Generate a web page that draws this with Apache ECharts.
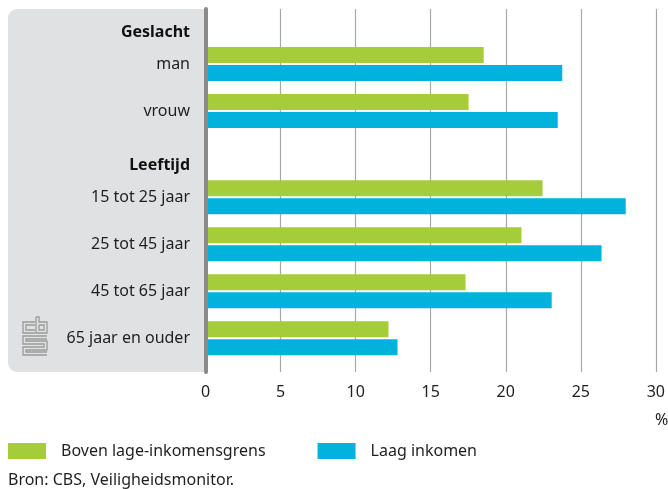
<!DOCTYPE html>
<html>
<head>
<meta charset="utf-8">
<script src="https://cdn.jsdelivr.net/npm/echarts@6/dist/echarts.min.js"></script>
<style>
  html, body { margin: 0; padding: 0; background: #fff; }
  #chart { width: 668px; height: 489px; }
</style>
</head>
<body>
<div id="chart"></div>
<script>
const groups = ['Geslacht', 'Leeftijd'];
const categories = ['man', 'vrouw', '15 tot 25 jaar', '25 tot 45 jaar', '45 tot 65 jaar', '65 jaar en ouder'];
const boven = [18.4, 17.4, 22.3, 20.9, 17.2, 12.1];
const laag = [23.6, 23.3, 27.8, 26.2, 22.9, 12.7];
const seriesNames = ['Boven lage-inkomensgrens', 'Laag inkomen'];
const source = 'Bron: CBS, Veiligheidsmonitor.';

// rows sit on a fine slot grid so the headings get their own spacing
const slotCount = 46;
const groupSlot = [2, 19];
const rowSlot = [6, 12, 23, 29, 35, 41];

const slotLabels = new Array(slotCount).fill('');
const bovenSlots = new Array(slotCount).fill(null);
const laagSlots = new Array(slotCount).fill(null);
groups.forEach((g, i) => { slotLabels[groupSlot[i]] = '{h|' + g + '}'; });
categories.forEach((c, i) => {
  slotLabels[rowSlot[i]] = c;
  bovenSlots[rowSlot[i]] = boven[i];
  laagSlots[rowSlot[i]] = laag[i];
});

const font = 'Noto Sans';
const textColor = '#1f1f1f';
const left = 205.6;
const logo = '#9a9a9a';

const chart = echarts.init(document.getElementById('chart'));
chart.setOption({
  animation: false,
  textStyle: {fontFamily: font},
  graphic: [
    {
      type: 'rect', z: -10,
      shape: {x: 8, y: 9, width: 197, height: 363, r: [9, 0, 0, 9]},
      style: {fill: '#dfe1e2'}
    },
    {
      type: 'group', z: -5,
      children: [
        {type: 'polyline', shape: {points: [[35, 322], [23, 322], [23, 333], [35, 333]]}, style: {stroke: logo, lineWidth: 1.3, fill: null}},
        {type: 'polyline', shape: {points: [[35, 325], [26, 325], [26, 330], [35, 330]]}, style: {stroke: logo, lineWidth: 1.3, fill: null}},
        {type: 'polyline', shape: {points: [[36, 317], [36, 333], [47, 333], [47, 322], [39, 322], [39, 317], [36, 317]]}, style: {stroke: logo, lineWidth: 1.3, fill: null}},
        {type: 'polyline', shape: {points: [[39, 325], [44, 325], [44, 330], [39, 330], [39, 325]]}, style: {stroke: logo, lineWidth: 1.3, fill: null}},
        {type: 'polyline', shape: {points: [[47, 336], [23, 336], [23, 344], [44, 344], [44, 347], [23, 347], [23, 355], [47, 355]]}, style: {stroke: logo, lineWidth: 1.3, fill: null}},
        {type: 'polyline', shape: {points: [[47, 339], [26, 339], [26, 341], [47, 341], [47, 350], [26, 350], [26, 352], [47, 352]]}, style: {stroke: logo, lineWidth: 1.3, fill: null}}
      ]
    },
    {
      type: 'text', left: 655, top: 412,
      style: {text: '%', font: '16px "Noto Sans"', fill: textColor}
    },
    {
      type: 'text', left: 8, top: 472,
      style: {text: source, font: '16px "Noto Sans"', fill: textColor}
    }
  ],
  legend: {
    data: seriesNames,
    left: 8, top: 443, padding: 0,
    icon: 'rect',
    itemWidth: 38, itemHeight: 16, itemGap: 52,
    textStyle: {fontSize: 16, color: textColor, fontFamily: font, padding: [0, 0, 0, 10]}
  },
  grid: [
    {left: left, right: 9, top: 9, bottom: 117},
    {left: left, right: 9, top: 13.1, height: 360.3}
  ],
  xAxis: [
    {
      gridIndex: 0, type: 'value', min: 0, max: 30, interval: 5,
      axisLine: {show: false}, axisTick: {show: false},
      splitLine: {lineStyle: {color: '#a8a8a8', width: 1.2}},
      axisLabel: {fontSize: 16, color: textColor, margin: 12}
    },
    {gridIndex: 1, type: 'value', min: 0, max: 30, show: false}
  ],
  yAxis: [
    {
      gridIndex: 0, type: 'category', data: [''], z: 5,
      axisLine: {show: true, lineStyle: {color: '#8a8a8a', width: 4}},
      axisTick: {show: false}, axisLabel: {show: false}, splitLine: {show: false}
    },
    {
      gridIndex: 1, type: 'category', data: slotLabels, inverse: true,
      axisLine: {show: false}, axisTick: {show: false},
      axisLabel: {
        interval: 0, margin: 15.6, fontSize: 16, color: textColor,
        rich: {h: {fontSize: 16, fontWeight: 'bold', color: '#111', fontFamily: font}}
      }
    }
  ],
  series: [
    {
      name: seriesNames[0], type: 'bar', xAxisIndex: 1, yAxisIndex: 1,
      data: bovenSlots, barWidth: 16, barGap: '12.5%',
      itemStyle: {color: '#a4cd39'}
    },
    {
      name: seriesNames[1], type: 'bar', xAxisIndex: 1, yAxisIndex: 1,
      data: laagSlots, barWidth: 16, barGap: '12.5%',
      itemStyle: {color: '#00b2dc'}
    }
  ]
});
</script>
</body>
</html>
